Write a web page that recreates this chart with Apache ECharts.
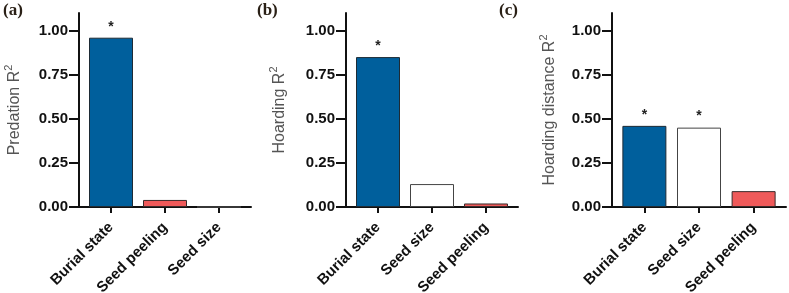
<!DOCTYPE html>
<html>
<head>
<meta charset="utf-8">
<script src="https://cdn.jsdelivr.net/npm/echarts@6/dist/echarts.min.js"></script>
<style>html,body{margin:0;padding:0;background:#fff}#c{width:789px;height:293px}</style>
</head>
<body>
<div id="c"></div>
<script>
// Data
const catsA = ['Burial state', 'Seed peeling', 'Seed size'];
const valsA = [0.96, 0.04, 0.0];
const sigA = ['*', '', ''];
const catsB = ['Burial state', 'Seed size', 'Seed peeling'];
const valsB = [0.85, 0.13, 0.02];
const sigB = ['*', '', ''];
const catsC = ['Burial state', 'Seed size', 'Seed peeling'];
const valsC = [0.46, 0.45, 0.09];
const sigC = ['*', '*', ''];
const yTicks = [0, 0.25, 0.5, 0.75, 1.0];
const panelLabels = ['(a)', '(b)', '(c)'];
const yNames = ['Predation R', 'Hoarding R', 'Hoarding distance R'];

const colorMap = {'Burial state': '#005f9c', 'Seed peeling': '#ef5a5a', 'Seed size': '#ffffff'};
const borderMap = {'Burial state': '#1e2b35', 'Seed peeling': '#3a2a2a', 'Seed size': '#444444'};

const panels = [
  {cats: catsA, vals: valsA, sig: sigA},
  {cats: catsB, vals: valsB, sig: sigB},
  {cats: catsC, vals: valsC, sig: sigC}
];
const gridLeft = [79, 346, 612];
const gridWidth = [172, 172, 174];
const nameGaps = [56, 58, 54];
const titleLeft = [3, 257, 499];

const font = 'Liberation Sans';
const option = {
  animation: false,
  backgroundColor: '#fff',
  title: panelLabels.map((t, i) => ({
    text: t, left: titleLeft[i], top: 2, padding: 0,
    textStyle: {fontFamily: 'Liberation Serif', fontWeight: 'bold', fontSize: 17, color: '#2a2016'}
  })),
  grid: panels.map((p, i) => ({left: gridLeft[i], width: gridWidth[i], top: 13, height: 194, containLabel: false, outerBoundsMode: 'none'})),
  xAxis: panels.map((p, i) => ({
    type: 'value', gridIndex: i, min: -0.593, max: 2.593,
    splitLine: {show: false},
    axisLine: {show: true, onZero: false, lineStyle: {color: '#111', width: 2}},
    axisTick: {show: true, customValues: [0, 1, 2], length: 6, lineStyle: {color: '#111', width: 2}},
    axisLabel: {
      customValues: [0, 1, 2], rotate: 45, margin: 18,
      formatter: v => p.cats[Math.round(v)],
      fontFamily: font, fontWeight: 'bold', fontSize: 15, color: '#111'
    }
  })),
  yAxis: panels.map((p, i) => ({
    type: 'value', gridIndex: i, min: 0, max: 1.1,
    name: '{a|' + yNames[i] + '}{b|2}',
    nameLocation: 'middle', nameGap: nameGaps[i], nameRotate: 90,
    nameTextStyle: {
      rich: {
        a: {fontFamily: font, fontSize: 16, color: '#555', verticalAlign: 'bottom', lineHeight: 20},
        b: {fontFamily: font, fontSize: 11, color: '#555', verticalAlign: 'top', lineHeight: 20}
      }
    },
    splitLine: {show: false},
    axisLine: {show: true, onZero: false, lineStyle: {color: '#111', width: 2}},
    axisTick: {show: true, customValues: yTicks, length: 10, lineStyle: {color: '#111', width: 2}},
    axisLabel: {
      customValues: yTicks, margin: 11,
      formatter: v => v.toFixed(2),
      fontFamily: font, fontWeight: 'bold', fontSize: 15, color: '#111'
    }
  })),
  series: panels.map((p, i) => ({
    type: 'bar', xAxisIndex: i, yAxisIndex: i, barWidth: 44,
    data: p.vals.map((v, j) => ({
      value: [j, v],
      itemStyle: {color: colorMap[p.cats[j]], borderColor: borderMap[p.cats[j]], borderWidth: 1},
      label: {show: p.sig[j] !== '', formatter: p.sig[j]}
    })),
    label: {position: 'top', distance: 4, fontFamily: font, fontWeight: 'bold', fontSize: 14, color: '#222'}
  }))
};
const chart = echarts.init(document.getElementById('c'), null, {renderer: 'canvas'});
chart.setOption(option);
</script>
</body>
</html>
